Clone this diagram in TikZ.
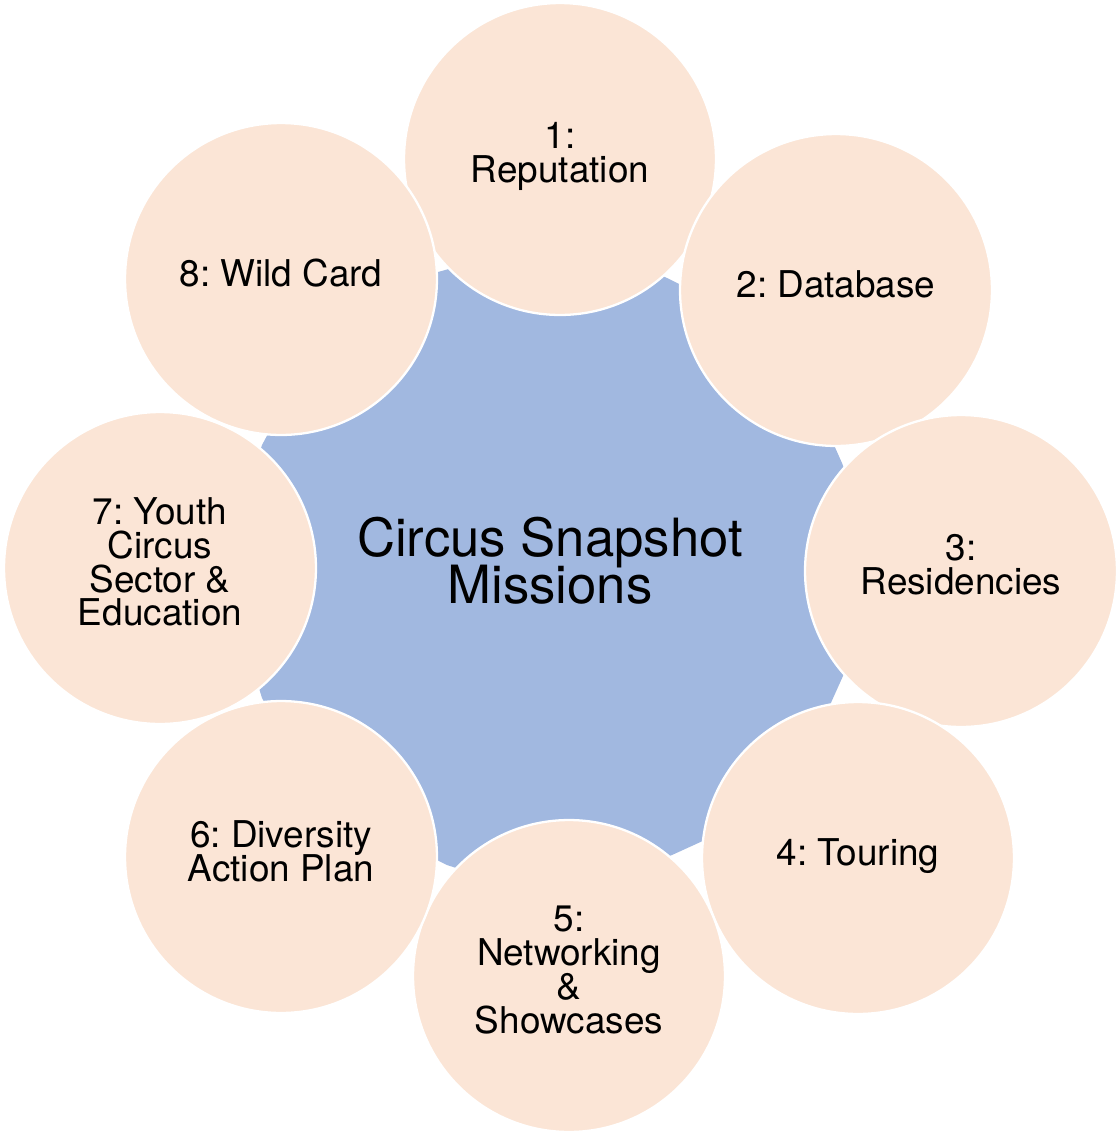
\documentclass[tikz,border=0pt]{standalone}
\usepackage{fontspec}
\setmainfont{TeX Gyre Heros}
\usepackage{xcolor}
\definecolor{petalfill}{HTML}{FBE5D6}
\definecolor{hubfill}{HTML}{A1B8E0}
\newcommand{\tightskip}{\lineskiplimit-20pt\relax}

\begin{document}
\frenchspacing
\begin{tikzpicture}[x=0.02cm,y=-0.02cm,
    petal/.style={circle,fill=petalfill,draw=white,line width=1.3pt,
      minimum size=6.24cm,inner sep=0pt,align=center,text depth=0.25cm,
      font=\fontsize{21}{19.2}\selectfont\tightskip},
    hubtext/.style={align=center,
      font=\fontsize{30}{26.7}\selectfont\tightskip}]
      \useasboundingbox (0,0) rectangle (1119,1134);

      \fill[hubfill] (553,240) -- (665,277) -- (786,337) -- (842,463) -- (883,570)
        -- (843,676) -- (786,803) -- (672,855) -- (553,900) -- (447,865) -- (320,803)
        -- (262,698) -- (223,570) -- (262,445) -- (320,337) -- (438,272) -- cycle;
      \node[hubtext] (hub) at (550,561) {Circus Snapshot\\Missions};

      \node[petal] (m1) at (560,159) {1:\\Reputation};
      \node[petal] (m2) at (836,290) {2: Database};
      \node[petal] (m3) at (961,571) {3:\\Residencies};
      \node[petal] (m4) at (858,858) {4: Touring};
      \node[petal] (m5) at (569,976) {5:\\Networking\\\&\\Showcases};
      \node[petal] (m6) at (281,857) {6: Diversity\\Action Plan};
      \node[petal] (m7) at (160,568) {7: Youth\\Circus\\Sector \&\\Education};
      \node[petal] (m8) at (281,279) {8: Wild Card};
    \end{tikzpicture}
\end{document}
